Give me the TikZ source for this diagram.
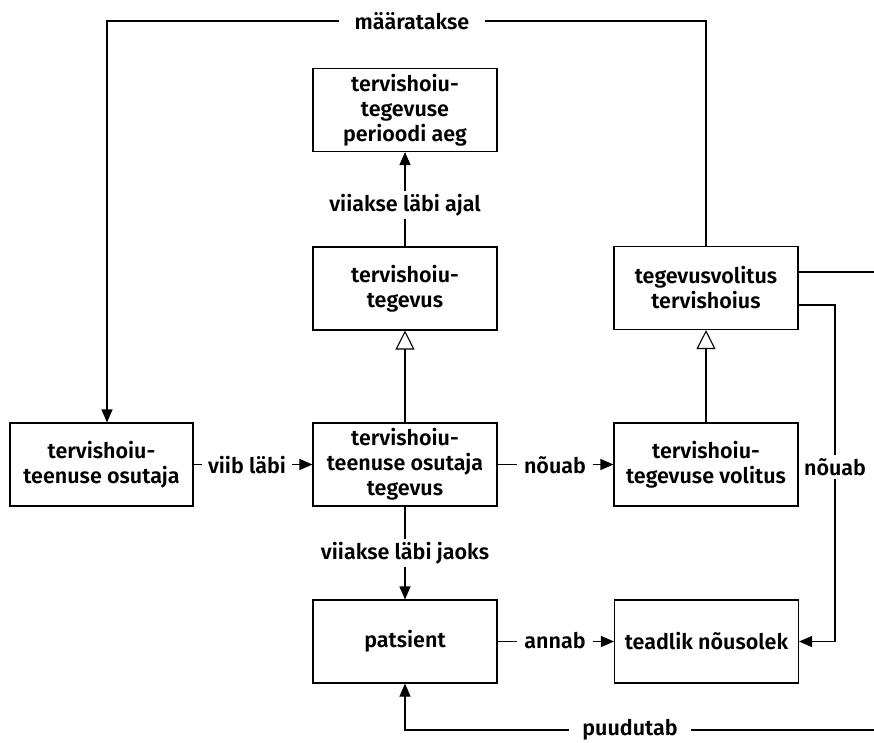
\documentclass[tikz,border=0pt]{standalone}
\usepackage{fontspec}
\setmainfont{Fira Sans}[BoldFont={Fira Sans SemiBold}]
\usetikzlibrary{arrows.meta}

\tikzset{
  box/.style={draw, line width=1.1pt, minimum width=184pt, minimum height=83pt,
    inner sep=0pt, align=center, font=\bfseries\fontsize{21.5}{25}\selectfont},
  lbl/.style={fill=white, inner xsep=10pt, inner ysep=3pt,
    font=\bfseries\fontsize{21.5}{25}\selectfont},
  conn/.style={line width=1.1pt},
  arr/.style={conn, -{Triangle[length=13pt,width=11pt]}},
  gen/.style={conn, -{Triangle[open,length=19pt,width=19pt]}}
}

\begin{document}
\begin{tikzpicture}[x=1pt,y=-1pt]
\useasboundingbox (0,0) rectangle (874,743);

\node [box] (aeg) at (405,110) {tervishoiu-\\tegevuse\\perioodi aeg};
\node [box] (tegevus) at (405,288.5) {tervishoiu-\\tegevus};
\node [box] (tvolitus) at (706,288) {tegevusvolitus\\tervishoius};
\node [box, minimum width=183pt] (osutaja) at (101.5,464.5) {tervishoiu-\\teenuse osutaja};
\node [box] (otegevus) at (405,464.5) {tervishoiu-\\teenuse osutaja\\tegevus};
\node [box] (volitus) at (706,464.5) {tervishoiu-\\tegevuse volitus};
\node [box] (patsient) at (405,641.5) {patsient};
\node [box] (nousolek) at (706.5,641.5) {teadlik nõusolek};

\coordinate (tl) at (107,21);
\coordinate (r1) at (874,272);
\coordinate (r2) at (835,305);
\coordinate (b1) at (874,730);

\draw [arr] (tvolitus.north) |- (tl) -- (tl |- osutaja.north);
\draw [conn] (tvolitus.east |- r1) -- (r1);
\draw [arr] (tvolitus.east |- r2) -- (r2) |- (nousolek.east);
\draw [arr] (b1) -| (patsient.south);

\draw [arr] (tegevus.north) -- (aeg.south);
\draw [gen] (otegevus.north) -- (tegevus.south);
\draw [gen] (volitus.north) -- (tvolitus.south);
\draw [arr] (osutaja.east) -- (otegevus.west);
\draw [arr] (otegevus.east) -- (volitus.west);
\draw [arr] (otegevus.south) -- (patsient.north);
\draw [arr] (patsient.east) -- (nousolek.west);

\node [lbl, inner xsep=16pt] (lmaar) at (412,21) {määratakse};
\node [lbl] (lajal) at (405,205) {viiakse läbi ajal};
\node [lbl, inner xsep=6pt] (lviib) at (247,465) {viib läbi};
\node [lbl, inner xsep=7pt] (lnou1) at (555,465) {nõuab};
\node [lbl, inner xsep=3pt] (lnou2) at (835,467) {nõuab};
\node [lbl] (ljaoks) at (405,553) {viiakse läbi jaoks};
\node [lbl, inner xsep=7pt] (lannab) at (555,641) {annab};
\node [lbl, inner xsep=13pt] (lpuud) at (630,730) {puudutab};
\end{tikzpicture}
\end{document}
